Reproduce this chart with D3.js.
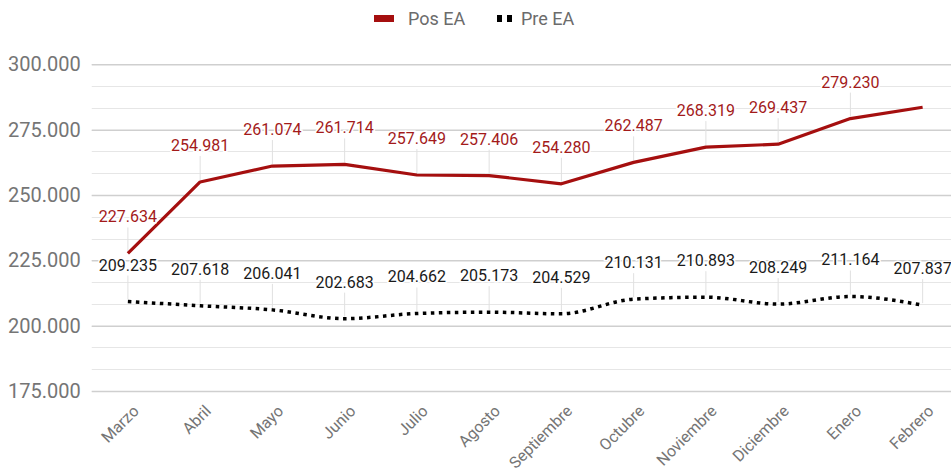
<!DOCTYPE html>
<html><head><meta charset="utf-8">
<script src="https://cdn.jsdelivr.net/npm/d3@7"></script>
<style>
body{margin:0;background:#fff;overflow:hidden}
text{font-family:Roboto,"Noto Sans",sans-serif}
</style></head>
<body><svg id="c" width="951" height="472"></svg>
<script>
const categories = ["Marzo","Abril","Mayo","Junio","Julio","Agosto","Septiembre","Octubre","Noviembre","Diciembre","Enero","Febrero"];
const posEA = [227634,254981,261074,261714,257649,257406,254280,262487,268319,269437,279230,283550];
const preEA = [209235,207618,206041,202683,204662,205173,204529,210131,210893,208249,211164,207837];
const posLabelShown = [true,true,true,true,true,true,true,true,true,true,true,false];
const yTicks = [175000,200000,225000,250000,275000,300000];

const svg = d3.select("#c");
const W = 951;
const x = d3.scaleBand().domain(categories).range([91.75, 958.75]);
const cx = d => x(d) + x.bandwidth()/2;
const y = d3.scaleLinear().domain([175000,300000]).range([391,64.3]);
const fmt = v => d3.format(",.0f")(v).replace(/,/g,".");

// gridlines (minor)
const minor = d3.range(175000, 300001, 25000/3);
svg.append("g").selectAll("line").data(minor).join("line")
  .attr("x1",91.75).attr("x2",W).attr("y1",d=>Math.round(y(d))+0.5).attr("y2",d=>Math.round(y(d))+0.5)
  .attr("stroke","#e6e6e6").attr("stroke-width",1.2);
// major
const yAxis = d3.axisLeft(y).tickValues(yTicks).tickFormat(fmt).tickSize(-(W-91.75)).tickPadding(11);
const ga = svg.append("g").attr("transform","translate(91.75,0)").call(yAxis);
ga.select(".domain").remove();
ga.selectAll(".tick line").attr("stroke","#cfcfcf").attr("stroke-width",1.5);
ga.selectAll(".tick text").attr("fill","#757575").style("font-size","20px");

// x axis labels
const xAxis = d3.axisBottom(x).tickSize(0).tickPadding(0);
const gx = svg.append("g").attr("transform","translate(0,391)").call(xAxis);
gx.select(".domain").remove();
gx.selectAll(".tick text")
  .attr("fill","#757575").style("font-size","16px")
  .attr("text-anchor","end")
  .attr("transform","translate(8,17) rotate(-45)")
  .attr("dy","0.35em").attr("y",0);

// leader lines
function leaders(data){
  svg.append("g").selectAll("line").data(data).join("line")
    .attr("x1",d=>cx(categories[d.i])).attr("x2",d=>cx(categories[d.i]))
    .attr("y1",d=>y(d.v)-26).attr("y2",d=>y(d.v)-2)
    .attr("stroke","#e0e0e0").attr("stroke-width",1);
}
leaders(preEA.map((v,i)=>({v,i})));
leaders(posEA.map((v,i)=>({v,i})).filter(d=>posLabelShown[d.i]));

// lines
const linePos = d3.line().x((d,i)=>cx(categories[i])).y(d=>y(d));
const linePre = d3.line().x((d,i)=>cx(categories[i])).y(d=>y(d)).curve(d3.curveMonotoneX);
svg.append("path").datum(posEA).attr("d",linePos).attr("fill","none")
  .attr("stroke","#a50f0f").attr("stroke-width",3.2).attr("stroke-linejoin","round");
svg.append("path").datum(preEA).attr("d",linePre).attr("fill","none")
  .attr("stroke","#000").attr("stroke-width",3.5).attr("stroke-dasharray","3.5,4.5");

// labels
function labels(data, shown, color){
  svg.append("g").selectAll("text").data(data.map((v,i)=>({v,i})).filter(d=>shown[d.i])).join("text")
    .attr("x",d=>cx(categories[d.i])).attr("y",d=>y(d.v)-31)
    .attr("text-anchor","middle").style("font-size","16px")
    .attr("fill",color).attr("stroke","#fff").attr("stroke-width",3)
    .attr("paint-order","stroke")
    .text(d=>fmt(d.v));
}
labels(preEA, preEA.map(()=>true), "#1a1a1a");
labels(posEA, posLabelShown, "#a31a1a");

// legend
const lg = svg.append("g");
lg.append("rect").attr("x",374).attr("y",15).attr("width",20).attr("height",7).attr("fill","#a50f0f");
lg.append("text").attr("x",408).attr("y",25).text("Pos EA").attr("fill","#6b6b6b").style("font-size","18px");
lg.append("rect").attr("x",497).attr("y",15).attr("width",5).attr("height",7).attr("fill","#000");
lg.append("rect").attr("x",507).attr("y",15).attr("width",5).attr("height",7).attr("fill","#000");
lg.append("text").attr("x",521).attr("y",25).text("Pre EA").attr("fill","#6b6b6b").style("font-size","18px");
</script></body></html>
